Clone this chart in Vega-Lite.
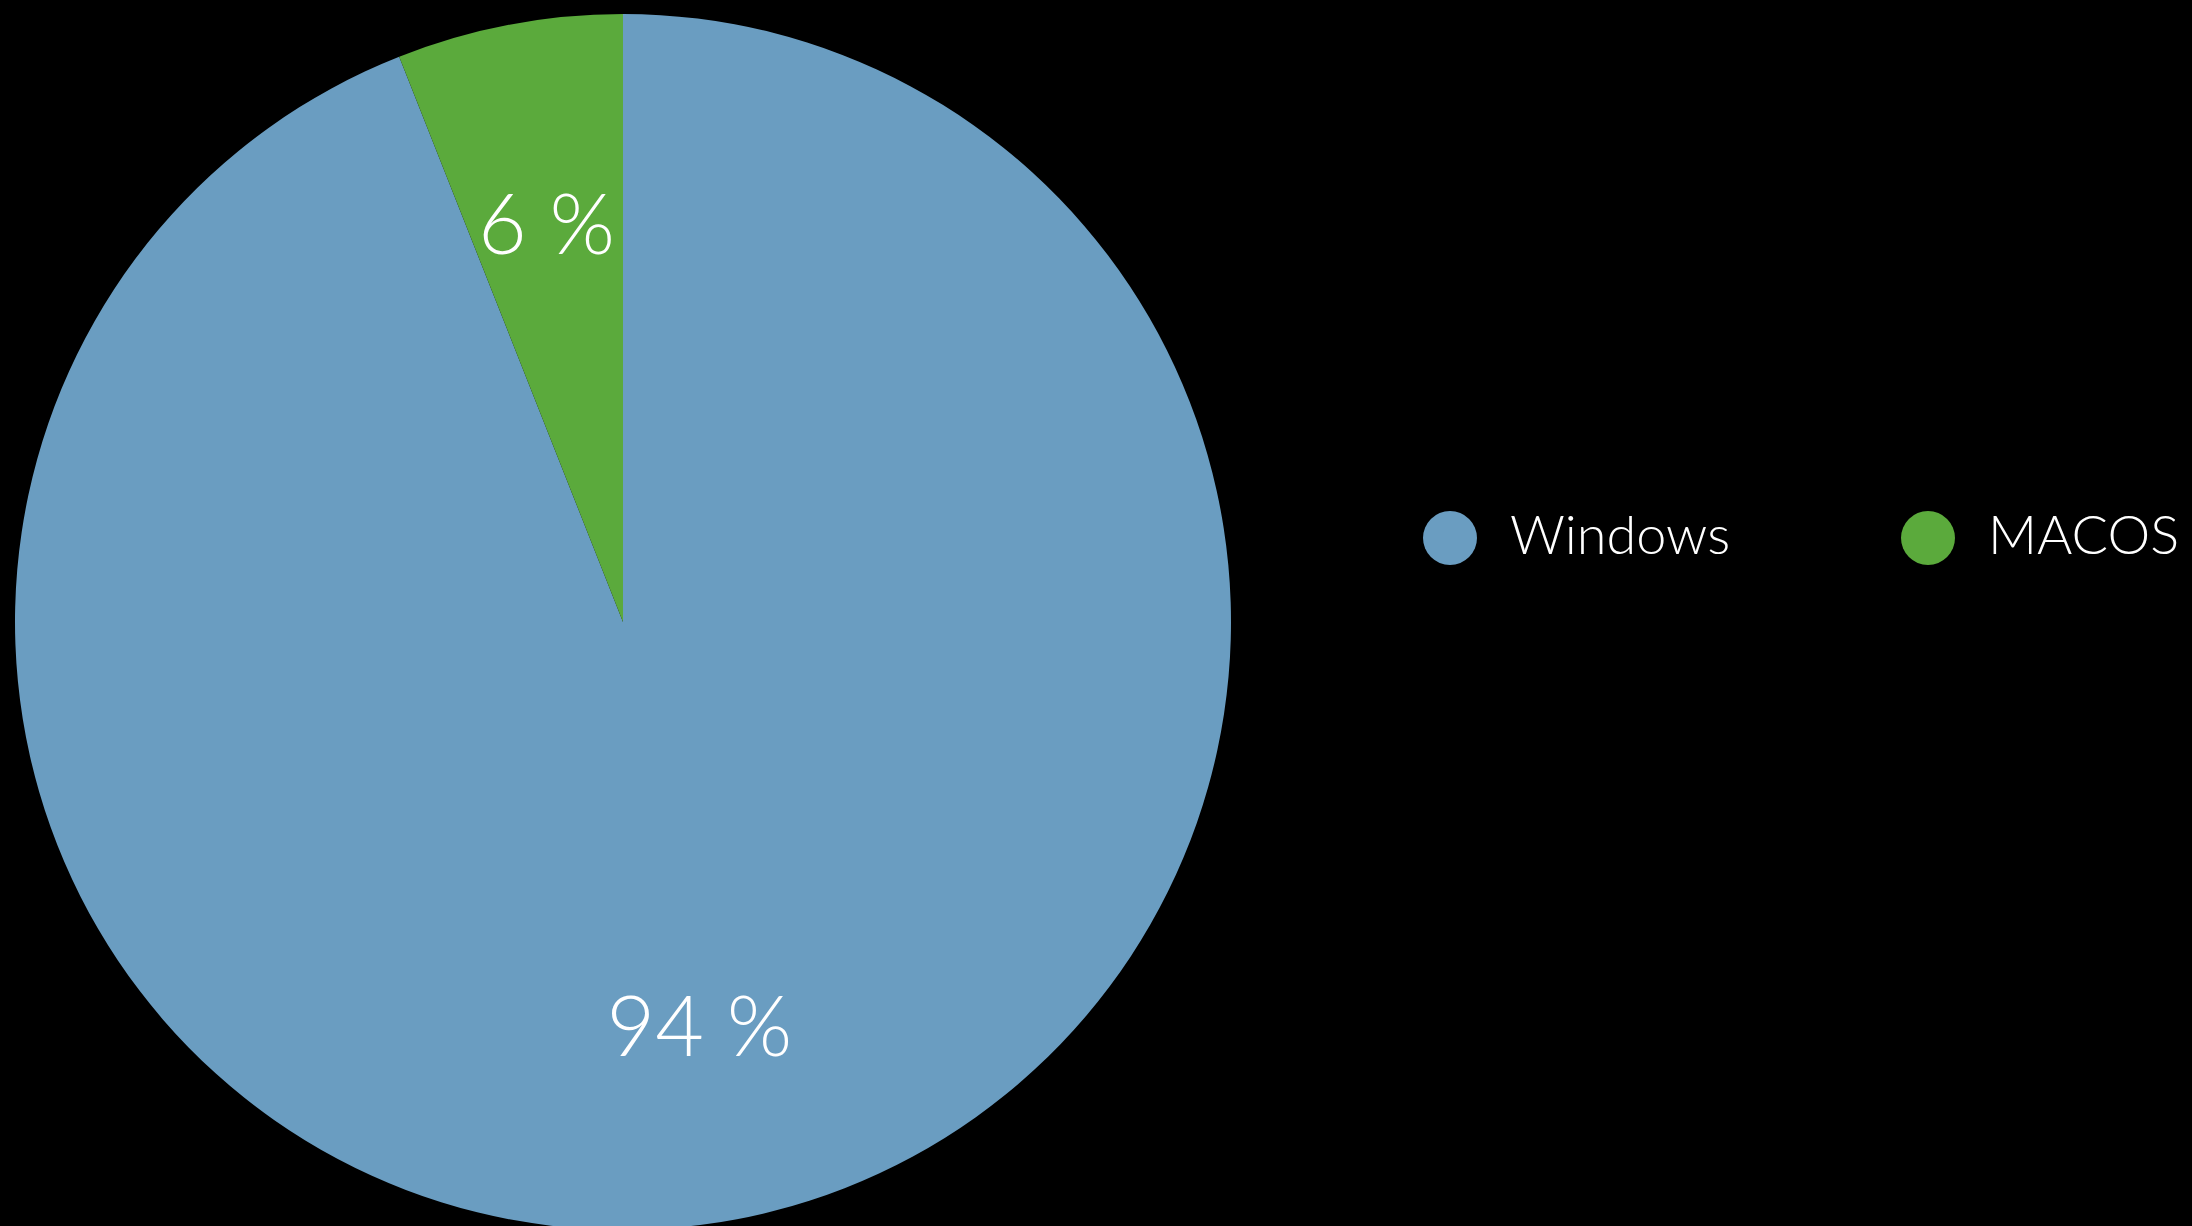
{
  "$schema": "https://vega.github.io/schema/vega-lite/v6.json",
  "width": 1246,
  "height": 1244,
  "autosize": {"type": "none"},
  "padding": {"left": 0, "top": 0, "right": 946, "bottom": 0},
  "background": "#000000",
  "config": {"view": {"stroke": null}},
  "data": {
    "values": [
      {"os": "Windows", "share": 94, "label": "94 %", "order": 1},
      {"os": "MACOS", "share": 6, "label": "6 %", "order": 2}
    ]
  },
  "encoding": {
    "theta": {"field": "share", "type": "quantitative", "stack": true},
    "order": {"field": "order", "type": "quantitative"},
    "color": {
      "field": "os",
      "type": "nominal",
      "sort": ["Windows", "MACOS"],
      "scale": {"domain": ["Windows", "MACOS"], "range": ["#6A9DC1", "#5BAA3C"]},
      "legend": {
        "orient": "none",
        "legendX": 1423,
        "legendY": 511,
        "direction": "horizontal",
        "title": null,
        "padding": 0,
        "symbolType": "circle",
        "symbolSize": 2916,
        "symbolStrokeWidth": 0,
        "symbolOpacity": 1,
        "labelFontSize": 54,
        "labelFont": "Lato",
        "labelFontWeight": 300,
        "labelColor": "#FFFFFF",
        "labelOffset": 33,
        "labelLimit": 500,
        "columnPadding": 170
      }
    }
  },
  "layer": [
    {"mark": {"type": "arc", "outerRadius": 608}},
    {
      "mark": {
        "type": "text",
        "radius": 408,
        "dy": 8,
        "fontSize": 84,
        "font": "Lato",
        "fontWeight": 300,
        "fill": "#FFFFFF",
        "align": "center",
        "baseline": "middle"
      },
      "encoding": {"text": {"field": "label"}, "color": {"value": "#FFFFFF"}}
    }
  ]
}
